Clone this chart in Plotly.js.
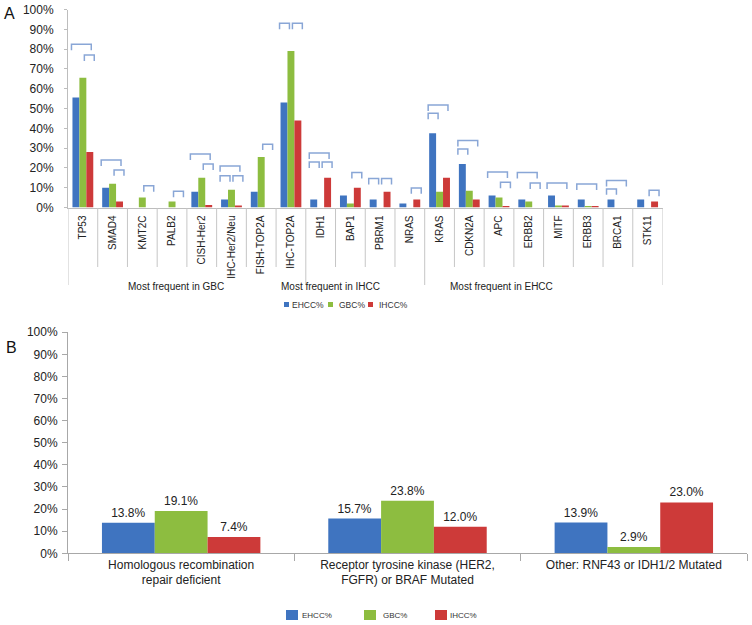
<!DOCTYPE html>
<html>
<head>
<meta charset="utf-8">
<script src="https://cdn.plot.ly/plotly-3.0.1.min.js"></script>
<style>
  html, body { margin: 0; padding: 0; background: #fff; }
  #chart { width: 752px; height: 625px; }
</style>
</head>
<body>
<div id="chart"></div>
<script>
// Panel A: gene alteration frequency by tumour type
const genes = ['TP53', 'SMAD4', 'KMT2C', 'PALB2', 'CISH-Her2', 'IHC-Her2/Neu', 'FISH-TOP2A', 'IHC-TOP2A',
    'IDH1', 'BAP1', 'PBRM1', 'NRAS',
    'KRAS', 'CDKN2A', 'APC', 'ERBB2', 'MITF', 'ERBB3', 'BRCA1', 'STK11'];
const geneGroups = ['Most frequent in GBC', 'Most frequent in IHCC', 'Most frequent in EHCC'];
const groupSizes = [8, 4, 8];
const seriesNames = ['EHCC%', 'GBC%', 'IHCC%'];

const ehccGenes = [55.5, 10, null, null, 8, 4, 8, 53, 4, 6, 4, 2, 37.5, 22, 6, 4, 6, 4, 4, 4];
const gbcGenes = [65.5, 12, 5, 3, 15, 9, 25.5, 79, null, 2, null, null, 8, 8.5, 5, 3, 1, 0.8, null, null];
const ihccGenes = [28, 3, null, null, 1.3, 1, null, 44, 15, 10, 8, 4, 15, 4, 0.7, null, 1, 0.7, null, 3];

// significance brackets: gene, compared pair, level (%)
const brackets = [
    ['TP53', 'BR', 82.4], ['TP53', 'GR', 77],
    ['SMAD4', 'BR', 24], ['SMAD4', 'GR', 19],
    ['KMT2C', 'GR', 11],
    ['PALB2', 'GR', 8.2],
    ['CISH-Her2', 'BR', 27], ['CISH-Her2', 'GR', 22],
    ['IHC-Her2/Neu', 'BR', 21], ['IHC-Her2/Neu', 'BG', 16], ['IHC-Her2/Neu', 'GR', 16],
    ['FISH-TOP2A', 'GR', 32],
    ['IHC-TOP2A', 'BG', 93], ['IHC-TOP2A', 'GR', 93],
    ['IDH1', 'BR', 27.5], ['IDH1', 'BG', 23], ['IDH1', 'GR', 23],
    ['BAP1', 'GR', 17.7],
    ['PBRM1', 'BG', 14.6], ['PBRM1', 'GR', 14.6],
    ['NRAS', 'GR', 9.9],
    ['KRAS', 'BR', 51.8], ['KRAS', 'BG', 47.6],
    ['CDKN2A', 'BR', 33.8], ['CDKN2A', 'BG', 29.6],
    ['APC', 'BR', 17.9], ['APC', 'GR', 12.7],
    ['ERBB2', 'BR', 17.7], ['ERBB2', 'GR', 12.4],
    ['MITF', 'BR', 12.4],
    ['ERBB3', 'BR', 11.9],
    ['BRCA1', 'BR', 13.6], ['BRCA1', 'BG', 9.4],
    ['STK11', 'GR', 8.7]
];

// Panel B: pathway level
const pathways = ['Homologous recombination<br>repair deficient',
    'Receptor tyrosine kinase (HER2,<br>FGFR) or BRAF Mutated',
    'Other: RNF43 or IDH1/2 Mutated'];
const ehccPath = [13.8, 15.7, 13.9];
const gbcPath = [19.1, 23.8, 2.9];
const ihccPath = [7.4, 12.0, 23.0];

const colors = ['#3f74c0', '#8dbd40', '#cd3a39'];
const W = 752, H = 625;
const px = (x) => x / W;
const py = (y) => 1 - y / H;
const font = 'Liberation Sans, Arial, Helvetica, sans-serif';

const geneIdx = genes.map((g, i) => i);
const traces = [];
[ehccGenes, gbcGenes, ihccGenes].forEach((vals, k) => {
    traces.push({
        type: 'bar', x: geneIdx, y: vals, name: seriesNames[k],
        marker: { color: colors[k] }, xaxis: 'x', yaxis: 'y',
        showlegend: false, hoverinfo: 'none'
    });
});
[ehccPath, gbcPath, ihccPath].forEach((vals, k) => {
    traces.push({
        type: 'bar', x: pathways, y: vals, name: seriesNames[k],
        marker: { color: colors[k] }, xaxis: 'x2', yaxis: 'y2',
        text: vals.map(v => v.toFixed(1) + '%'), textposition: 'outside',
        textfont: { family: font, size: 12, color: '#222' },
        cliponaxis: false, showlegend: false, hoverinfo: 'none'
    });
});

const shapes = [];
const annotations = [];

// bracket geometry in category units
const u = 0.7 / 3;
brackets.forEach(([gene, pair, lvl]) => {
    const i = genes.indexOf(gene);
    let x0, x1;
    if (pair === 'BG') { x0 = i - u - 0.15; x1 = i - 0.05; }
    else if (pair === 'GR') { x0 = i + 0.05; x1 = i + u + 0.15; }
    else { x0 = i - u - 0.15; x1 = i + u + 0.05; }
    shapes.push({
        type: 'path', xref: 'x', yref: 'y',
        path: `M${x0},${lvl - 3} L${x0},${lvl} L${x1},${lvl} L${x1},${lvl - 3}`,
        line: { color: '#89a6d6', width: 1.5 }
    });
});

// category dividers under the axis, longer at group boundaries
const groupEdges = [-0.5];
groupSizes.forEach(n => groupEdges.push(groupEdges[groupEdges.length - 1] + n));
for (let k = 0; k <= genes.length; k++) {
    const xb = k - 0.5;
    const isGroup = groupEdges.includes(xb);
    shapes.push({
        type: 'line', xref: 'x', yref: 'paper', x0: xb, x1: xb,
        y0: py(208), y1: isGroup ? py(285) : py(267),
        line: { color: '#c6c6c6', width: 1 }
    });
}

const groupLabelX = [176, 330, 502];
geneGroups.forEach((g, k) => {
    annotations.push({
        xref: 'paper', yref: 'paper', x: px(groupLabelX[k]), y: py(286),
        text: g, showarrow: false, xanchor: 'center', yanchor: 'middle',
        font: { family: font, size: 10, color: '#222' }
    });
});

// legends
const topLegend = [[284, 289.5], [328, 337], [368, 377]];
const botLegend = [[286, 300], [364, 381], [435, 448]];
seriesNames.forEach((n, k) => {
    shapes.push({
        type: 'rect', xref: 'paper', yref: 'paper',
        x0: px(topLegend[k][0]), x1: px(topLegend[k][0] + 5), y0: py(302), y1: py(307),
        fillcolor: colors[k], line: { width: 0 }
    });
    annotations.push({
        xref: 'paper', yref: 'paper', x: px(topLegend[k][1]), y: py(304.5),
        text: n, showarrow: false, xanchor: 'left', yanchor: 'middle',
        font: { family: font, size: 8.5, color: '#333' }
    });
    shapes.push({
        type: 'rect', xref: 'paper', yref: 'paper',
        x0: px(botLegend[k][0]), x1: px(botLegend[k][0] + 12), y0: py(610), y1: py(620),
        fillcolor: colors[k], line: { width: 0 }
    });
    annotations.push({
        xref: 'paper', yref: 'paper', x: px(botLegend[k][1]), y: py(615),
        text: n, showarrow: false, xanchor: 'left', yanchor: 'middle',
        font: { family: font, size: 8, color: '#333' }
    });
});

annotations.push({
    xref: 'paper', yref: 'paper', x: px(9), y: py(14), text: 'A', showarrow: false,
    xanchor: 'center', yanchor: 'middle', font: { family: font, size: 16, color: '#111' }
});
annotations.push({
    xref: 'paper', yref: 'paper', x: px(11), y: py(347), text: 'B', showarrow: false,
    xanchor: 'center', yanchor: 'middle', font: { family: font, size: 16, color: '#111' }
});

const layout = {
    width: W, height: H,
    margin: { l: 0, r: 0, t: 0, b: 0 },
    paper_bgcolor: '#fff', plot_bgcolor: '#fff',
    font: { family: font, color: '#222' },
    barmode: 'group', bargap: 0.3, bargroupgap: 0,
    showlegend: false,
    xaxis: {
        domain: [px(68), px(662.5)], anchor: 'y',
        range: [-0.5, 19.5], tickmode: 'array', tickvals: geneIdx, ticktext: genes,
        tickangle: -90, ticks: '', ticklabelstandoff: 3,
        tickfont: { family: font, size: 10, color: '#222' },
        showline: true, linecolor: '#bdbdbd', linewidth: 1,
        showgrid: false, zeroline: false, fixedrange: true
    },
    yaxis: {
        domain: [py(207.5), py(9.5)], anchor: 'x',
        range: [0, 100], dtick: 10, ticksuffix: '%',
        ticks: 'outside', ticklen: 3, tickcolor: '#bdbdbd', ticklabelstandoff: 8,
        tickfont: { family: font, size: 12, color: '#222' },
        showline: true, linecolor: '#bdbdbd', linewidth: 1,
        showgrid: false, zeroline: false, fixedrange: true
    },
    xaxis2: {
        domain: [px(68), px(747)], anchor: 'y2',
        type: 'category', tickson: 'boundaries',
        ticks: 'outside', ticklen: 7, tickcolor: '#a8a8a8',
        tickfont: { family: font, size: 12, color: '#222' },
        showline: true, linecolor: '#a8a8a8', linewidth: 1,
        showgrid: false, zeroline: false, fixedrange: true
    },
    yaxis2: {
        domain: [py(553.3), py(332.2)], anchor: 'x2',
        range: [0, 100], dtick: 10, ticksuffix: '%',
        ticks: 'outside', ticklen: 5, tickcolor: '#a8a8a8', ticklabelstandoff: 2,
        tickfont: { family: font, size: 12, color: '#222' },
        showline: true, linecolor: '#a8a8a8', linewidth: 1,
        showgrid: false, zeroline: false, fixedrange: true
    },
    shapes: shapes,
    annotations: annotations
};

Plotly.newPlot('chart', traces, layout, { displayModeBar: false, staticPlot: true });
</script>
</body>
</html>
